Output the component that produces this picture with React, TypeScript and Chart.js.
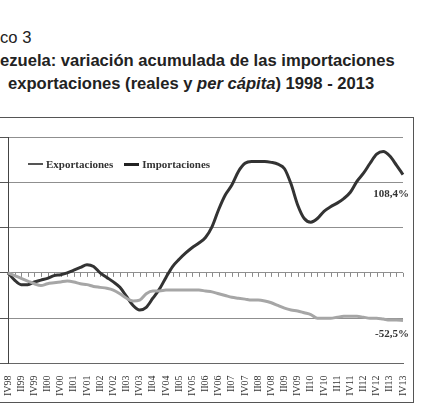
import React, { useEffect, useRef } from "react";
import { Chart, registerables } from "chart.js";

Chart.register(...registerables);

const quarters = [
  "IV98",
  "I99", "II99", "III99", "IV99",
  "I00", "II00", "III00", "IV00",
  "I01", "II01", "III01", "IV01",
  "I02", "II02", "III02", "IV02",
  "I03", "II03", "III03", "IV03",
  "I04", "II04", "III04", "IV04",
  "I05", "II05", "III05", "IV05",
  "I06", "II06", "III06", "IV06",
  "I07", "II07", "III07", "IV07",
  "I08", "II08", "III08", "IV08",
  "I09", "II09", "III09", "IV09",
  "I10", "II10", "III10", "IV10",
  "I11", "II11", "III11", "IV11",
  "I12", "II12", "III12", "IV12",
  "I13", "II13", "III13", "IV13",
];

const importaciones = [
  0, -8, -13, -13, -10, -8, -6, -3, -2, 0,
  3, 6, 9, 7, 0, -5, -10, -16, -26, -36,
  -41, -38, -28, -18, -5, 7, 15, 22, 28, 33,
  39, 51, 70, 86, 97, 112, 121, 123, 123, 123,
  122, 120, 115, 98, 75, 60, 56, 60, 68, 73,
  77, 82, 89, 101, 110, 121, 131, 134, 129, 119,
  108.4,
];

const exportaciones = [
  0, -3, -6, -9, -12, -14, -12, -11, -10, -9,
  -10, -12, -13, -15, -16, -17, -19, -23, -28, -31,
  -30, -23, -20, -20, -19, -19, -19, -19, -19, -19,
  -20, -21, -23, -25, -27, -28, -29, -30, -30, -31,
  -33, -36, -39, -41, -42, -44, -46, -50, -50, -50,
  -49, -48, -48, -48, -49, -50, -50, -51, -52, -52,
  -52.5,
];

const seriesNames = ["Exportaciones", "Importaciones"];
const endLabels = ["-52,5%", "108,4%"];
const yTicks = { min: -100, max: 150, step: 50 };

const serif = "'Liberation Serif', 'Times New Roman', serif";

const zeroTicksPlugin = {
  id: "zeroTicks",
  beforeDatasetsDraw(chart: any) {
    const { ctx, scales } = chart;
    const x = scales.x;
    const y0 = scales.y.getPixelForValue(0);
    ctx.save();
    ctx.strokeStyle = "#8a8a8a";
    ctx.lineWidth = 1;
    ctx.beginPath();
    for (let i = 0; i < quarters.length; i++) {
      const px = Math.round(x.getPixelForValue(i)) + 0.5;
      ctx.moveTo(px, y0);
      ctx.lineTo(px, y0 + 4);
    }
    ctx.stroke();
    ctx.restore();
  },
};

const endLabelPlugin = {
  id: "endLabels",
  afterDatasetsDraw(chart: any) {
    const { ctx } = chart;
    ctx.save();
    ctx.font = `bold 11px ${serif}`;
    ctx.fillStyle = "#333";
    ctx.textAlign = "right";
    ctx.textBaseline = "middle";
    const offsets = [14, 19];
    chart.data.datasets.forEach((ds: any, di: number) => {
      const meta = chart.getDatasetMeta(di);
      const pt = meta.data[meta.data.length - 1];
      ctx.fillText(endLabels[di], pt.x + 6, pt.y + offsets[di]);
    });
    ctx.restore();
  },
};

function LegendItem({ label, color, width }: { label: string; color: string; width: number }) {
  return (
    <span style={{ display: "inline-flex", alignItems: "center", marginRight: 11 }}>
      <span style={{ display: "inline-block", width: 15, height: width, background: color, marginRight: 3 }} />
      <span>{label}</span>
    </span>
  );
}

export default function App() {
  const canvasRef = useRef<HTMLCanvasElement | null>(null);

  useEffect(() => {
    if (!canvasRef.current) return;
    const chart = new Chart(canvasRef.current, {
      type: "line",
      data: {
        labels: quarters,
        datasets: [
          {
            label: seriesNames[0],
            data: exportaciones,
            borderColor: "#a6a6a6",
            borderWidth: 3,
            pointRadius: 0,
            tension: 0.4,
            cubicInterpolationMode: "monotone",
          },
          {
            label: seriesNames[1],
            data: importaciones,
            borderColor: "#333333",
            borderWidth: 3,
            pointRadius: 0,
            tension: 0.4,
            cubicInterpolationMode: "monotone",
          },
        ],
      },
      options: {
        animation: false,
        responsive: false,
        maintainAspectRatio: false,
        layout: { padding: { top: 17, right: 21, bottom: 2, left: 0 } },
        plugins: {
          legend: { display: false },
          tooltip: { enabled: false },
        },
        scales: {
          x: {
            offset: false,
            grid: { display: false },
            border: { display: true, color: "#666", width: 1 },
            ticks: {
              autoSkip: false,
              minRotation: 90,
              maxRotation: 90,
              padding: 4,
              color: "#333",
              font: { family: serif, size: 10 },
              callback: (_v: any, idx: number) => (idx % 2 === 0 ? quarters[idx] : ""),
            },
          },
          y: {
            min: yTicks.min,
            max: yTicks.max,
            ticks: { stepSize: yTicks.step, display: false },
            grid: { color: "#8f8f8f", lineWidth: 1, drawTicks: true, tickLength: 8, tickColor: "#555" },
            border: { display: true, color: "#444", width: 1 },
          },
        },
      },
      plugins: [zeroTicksPlugin, endLabelPlugin],
    });
    return () => chart.destroy();
  }, []);

  const titleStyle: React.CSSProperties = {
    position: "absolute",
    left: 0,
    fontFamily: "'Liberation Sans', Arial, sans-serif",
    fontSize: 16.6,
    lineHeight: "17px",
    color: "#222",
    whiteSpace: "nowrap",
  };

  return (
    <div style={{ position: "absolute", left: 0, top: 0, width: 424, height: 412, overflow: "hidden", background: "#fff" }}>
      <div style={{ ...titleStyle, top: 29 }}>co 3</div>
      <div style={{ ...titleStyle, top: 52, fontWeight: "bold" }}>
        ezuela: variación acumulada de las importaciones
      </div>
      <div style={{ ...titleStyle, top: 75, left: 8, fontWeight: "bold" }}>
        exportaciones (reales y <i>per cápita</i>) 1998 - 2013
      </div>
      <div
        style={{
          position: "absolute",
          left: -5,
          top: 117,
          width: 419,
          height: 286,
          boxSizing: "border-box",
          border: "1px solid #555",
        }}
      />
      <canvas
        ref={canvasRef}
        width={424}
        height={282}
        style={{ position: "absolute", left: 0, top: 120, width: 424, height: 282 }}
      />
      <div
        style={{
          position: "absolute",
          left: 28,
          top: 157,
          fontFamily: serif,
          fontWeight: "bold",
          fontSize: 11,
          color: "#333",
          whiteSpace: "nowrap",
          display: "flex",
          alignItems: "center",
          height: 14,
        }}
      >
        <LegendItem label={seriesNames[0]} color="#555" width={2} />
        <LegendItem label={seriesNames[1]} color="#222" width={3} />
      </div>
    </div>
  );
}
